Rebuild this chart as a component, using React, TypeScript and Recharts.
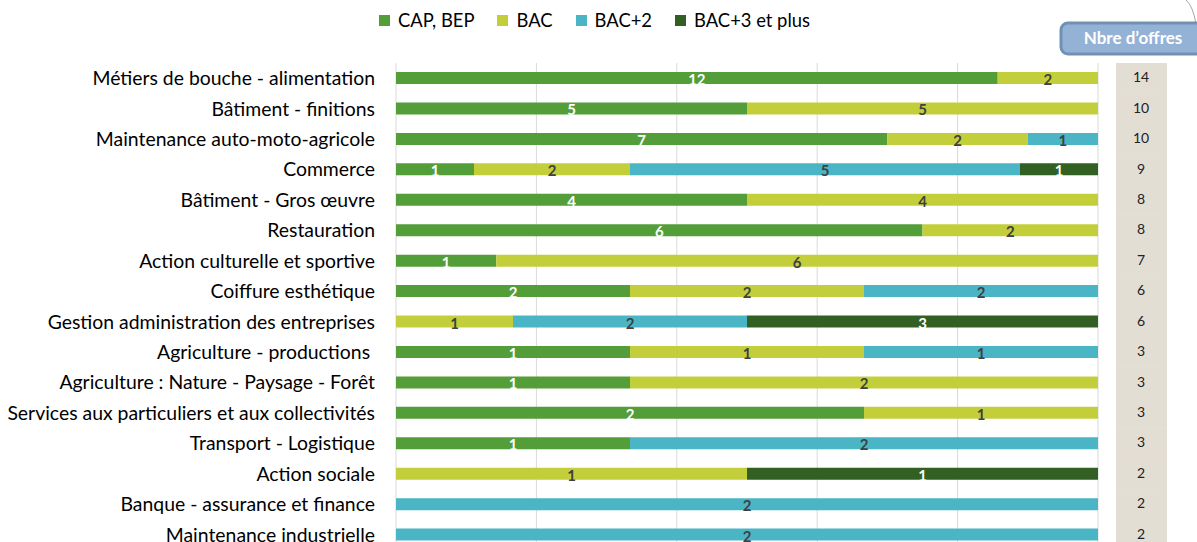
import { BarChart, Bar, XAxis, YAxis, CartesianGrid, Legend, LabelList, Customized } from 'recharts';

const CATEGORIES = [
    'Métiers de bouche - alimentation',
    'Bâtiment - finitions',
    'Maintenance auto-moto-agricole',
    'Commerce',
    'Bâtiment - Gros œuvre',
    'Restauration',
    'Action culturelle et sportive',
    'Coiffure esthétique',
    'Gestion administration des entreprises',
    'Agriculture - productions\u00a0',
    'Agriculture : Nature - Paysage - Forêt',
    'Services aux particuliers et aux collectivités',
    'Transport - Logistique',
    'Action sociale',
    'Banque - assurance et finance',
    'Maintenance industrielle',
];
const CAP_BEP = [12, 5, 7, 1, 4, 6, 1, 2, 0, 1, 1, 2, 1, 0, 0, 0];
const BAC = [2, 5, 2, 2, 4, 2, 6, 2, 1, 1, 2, 1, 0, 1, 0, 0];
const BAC_2 = [0, 0, 1, 5, 0, 0, 0, 2, 2, 1, 0, 0, 2, 0, 2, 2];
const BAC_3 = [0, 0, 0, 1, 0, 0, 0, 0, 3, 0, 0, 0, 0, 1, 0, 0];
const NB_OFFRES = [14, 10, 10, 9, 8, 8, 7, 6, 6, 3, 3, 3, 3, 2, 2, 2];
const X_TICKS = [0, 0.2, 0.4, 0.6, 0.8, 1];

const SERIES = [
    { key: 'cap', name: 'CAP, BEP', color: '#549E39', labelColor: '#ffffff' },
    { key: 'bac', name: 'BAC', color: '#C3CF3A', labelColor: '#404040' },
    { key: 'bac2', name: 'BAC+2', color: '#4AB5C4', labelColor: '#404040' },
    { key: 'bac3', name: 'BAC+3 et plus', color: '#326022', labelColor: '#ffffff' },
];

const data = CATEGORIES.map((name, i) => ({
    name,
    cap: CAP_BEP[i],
    bac: BAC[i],
    bac2: BAC_2[i],
    bac3: BAC_3[i],
    total: NB_OFFRES[i],
}));

const FONT = 'Lato, "Liberation Sans", sans-serif';
const BAND = 30.4;

function RightTick(props: any) {
    const { x, y, payload } = props;
    const row = data.find((d) => d.name === payload.value);
    return (
        <g>
            <rect x={x + 18} y={y - BAND / 2} width={51} height={BAND + 0.5} fill="#E3DED4" />
            <text x={x + 43} y={y} dy={4} textAnchor="middle" fontSize={14} fill="#222" fontFamily={FONT}>
                {row ? row.total : ''}
            </text>
        </g>
    );
}

function makeLabel(color: string) {
    return (p: any) => {
        if (!p.value) return null;
        return (
            <text
                x={p.x + p.width / 2}
                y={p.y + p.height / 2 + 7}
                textAnchor="middle"
                fontSize={15}
                fontWeight="bold"
                fill={color}
                fontFamily={FONT}
            >
                {p.value}
            </text>
        );
    };
}

function LegendContent() {
    return (
        <div style={{ display: 'flex', justifyContent: 'center', gap: 23, fontFamily: FONT, fontSize: 18.4, height: 30, alignItems: 'center', paddingRight: 8 }}>
            {SERIES.map((s) => (
                <div key={s.key} style={{ display: 'flex', alignItems: 'center', gap: 8 }}>
                    <span style={{ width: 11, height: 11, background: s.color, display: 'inline-block' }} />
                    <span style={{ color: '#000' }}>{s.name}</span>
                </div>
            ))}
        </div>
    );
}

function OffresHeader() {
    return (
        <g>
            <path d="M1186,0 Q1193,6 1196,24" stroke="#a6a6a6" fill="none" strokeWidth={1} />
            <rect x={1061} y={23} width={150} height={31} rx={7} fill="#94B2D5" stroke="#7090B4" strokeWidth={3} />
            <text x={1133} y={44} textAnchor="middle" fontSize={17} fontWeight="bold" fill="#ffffff" fontFamily={FONT}>
                Nbre d’offres
            </text>
        </g>
    );
}

export default function App() {
    return (
        <div style={{ position: 'absolute', left: 0, top: 0, width: 1197, height: 542, overflow: 'hidden', background: '#fff' }}>
            <BarChart
                width={1197}
                height={560}
                data={data}
                layout="vertical"
                stackOffset="expand"
                barSize={12}
                margin={{ top: 33, right: 0, bottom: 10, left: 0 }}
            >
                <CartesianGrid horizontal={false} stroke="#d9d9d9" />
                <XAxis type="number" domain={[0, 1]} ticks={X_TICKS} hide />
                <YAxis
                    yAxisId="left"
                    type="category"
                    dataKey="name"
                    width={396}
                    interval={0}
                    tickLine={false}
                    axisLine={false}
                    tickSize={0}
                    tickMargin={21}
                    tick={{ fontSize: 19.4, fill: '#000', fontFamily: FONT }}
                />
                <YAxis
                    yAxisId="right"
                    orientation="right"
                    type="category"
                    dataKey="name"
                    width={99}
                    interval={0}
                    tickLine={false}
                    axisLine={false}
                    tickSize={0}
                    tickMargin={0}
                    tick={RightTick}
                />
                <Legend verticalAlign="top" wrapperStyle={{ top: 5 }} content={LegendContent} />
                {SERIES.map((s) => (
                    <Bar key={s.key} yAxisId="left" dataKey={s.key} name={s.name} stackId="a" fill={s.color} isAnimationActive={false}>
                        <LabelList dataKey={s.key} content={makeLabel(s.labelColor)} />
                    </Bar>
                ))}
                <Customized component={OffresHeader} />
            </BarChart>
        </div>
    );
}
